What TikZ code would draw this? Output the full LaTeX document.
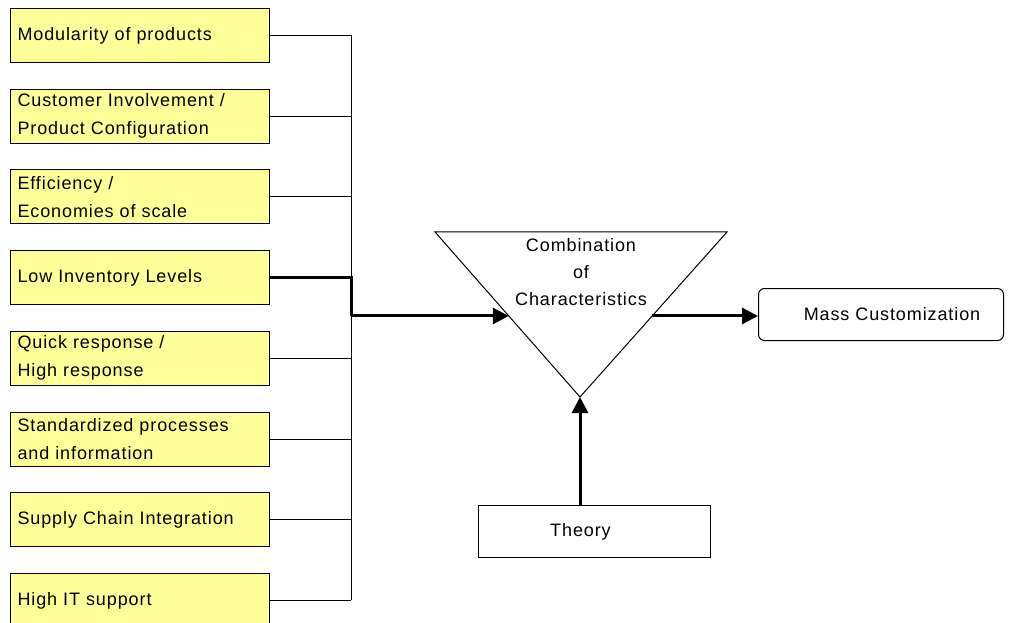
\documentclass[tikz,border=0pt]{standalone}
\usepackage{fontspec}
\setmainfont{Liberation Sans}[LetterSpace=5]
\usetikzlibrary{arrows.meta,positioning,calc}
\definecolor{boxyellow}{RGB}{255,255,153}

\begin{document}
\begin{tikzpicture}[x=1pt, y=-1pt, >={Triangle[length=16pt,width=16pt]},
  node distance=25.7pt,
  factor/.style={draw, line width=1pt, fill=boxyellow, text width=245pt, inner xsep=7pt,
    inner ysep=0pt, minimum height=54pt, align=left, font=\fontsize{18}{28}\selectfont},
  plainbox/.style={draw, line width=1pt, fill=white, minimum height=52pt, inner sep=0pt,
    font=\fontsize{18}{28}\selectfont},
  thin/.style={line width=1pt},
  bold/.style={line width=3pt}
]
  \useasboundingbox (0,0) rectangle (1013,623);

  % -- Characteristics on the left --
  \node[factor, anchor=north west] (modular) at (10,8) {Modularity of products};
  \node[factor, below=of modular] (involve) {Customer Involvement /\\Product Configuration};
  \node[factor, below=of involve] (effic) {Efficiency /\\Economies of scale};
  \node[factor, below=of effic] (inventory) {Low Inventory Levels};
  \node[factor, below=of inventory] (quick) {Quick response /\\High response};
  \node[factor, below=of quick] (standard) {Standardized processes\\and information};
  \node[factor, below=of standard] (supply) {Supply Chain Integration};
  \node[factor, below=of supply] (itsupport) {High IT support};

  % -- Triangle of combination --
  \coordinate (tl) at (435,232);
  \coordinate (tr) at (727,232);
  \coordinate (apex) at (580,397);
  \draw[thin, fill=white] (tl) -- (tr) -- (apex) -- cycle;
  \node[align=center, font=\fontsize{18}{27}\selectfont] (combi) at (581,272)
    {Combination\\of\\Characteristics};
  \coordinate (inL) at ($(tl)!0.509!(apex)$);
  \coordinate (inR) at ($(tr)!0.509!(apex)$);

  % -- Result and theory --
  \node[plainbox, rounded corners=6pt, minimum width=245pt, anchor=north west] (mass)
    at (758,288) {\rule{22pt}{0pt}Mass Customization};
  \node[plainbox, minimum width=232pt, anchor=north west] (theory) at (478,505)
    {Theory\rule{28pt}{0pt}};

  % -- Bus collecting the characteristics --
  \coordinate (bus) at (351,0);
  \draw[thin] (modular.east) -- (modular.east -| bus);
  \draw[thin] (involve.east) -- (involve.east -| bus);
  \draw[thin] (effic.east) -- (effic.east -| bus);
  \draw[thin] (quick.east) -- (quick.east -| bus);
  \draw[thin] (standard.east) -- (standard.east -| bus);
  \draw[thin] (supply.east) -- (supply.east -| bus);
  \draw[thin] (itsupport.east) -- (itsupport.east -| bus);
  \draw[thin] (modular.east -| bus) -- (itsupport.east -| bus);

  \coordinate (join) at (bus |- inL);
  \draw[bold] (inventory.east) -- (inventory.east -| bus) -- (join);
  \draw[bold, ->] (join) -- (inL);
  \draw[bold, ->] (inR) -- (inR -| mass.west);
  \draw[bold, ->] (apex |- theory.north) -- (apex);

\end{tikzpicture}
\end{document}
